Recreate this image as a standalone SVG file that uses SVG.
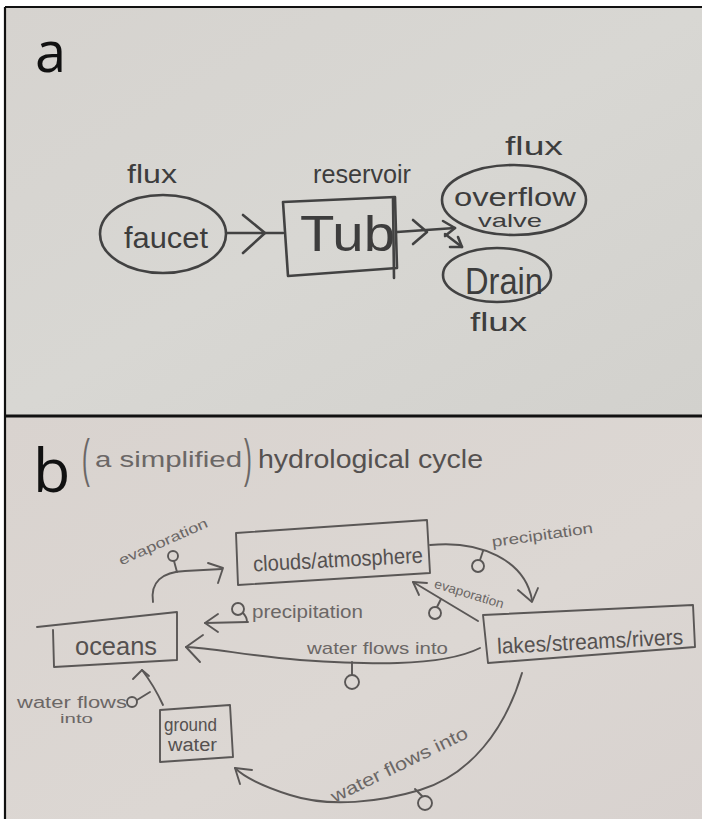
<svg xmlns="http://www.w3.org/2000/svg" width="702" height="819" viewBox="0 0 702 819">
  <style>
    .paperA { fill: url(#paperA); }
    .paperB { fill: url(#paperB); }
    .frame { fill: none; stroke: #111; stroke-width: 2.2; }
    .inkA { fill: none; stroke: #424242; stroke-width: 2.6; stroke-linecap: round; stroke-linejoin: round; }
    .inkB { fill: none; stroke: #5a5756; stroke-width: 1.9; stroke-linecap: round; stroke-linejoin: round; }
    .txtA { font-family: "Liberation Sans", "DejaVu Sans", sans-serif; fill: #3d3d3d; }
    .txtB { font-family: "Liberation Sans", "DejaVu Sans", sans-serif; fill: #555150; }
    .light { fill: #6b6766; }
    .panel { font-family: "Open Sans", "Liberation Sans", sans-serif; fill: #111; }
  </style>
  <defs>
    <linearGradient id="paperA" x1="0" y1="0" x2="1" y2="1">
      <stop offset="0" stop-color="#d6d3cf"/>
      <stop offset="0.5" stop-color="#d8d7d3"/>
      <stop offset="1" stop-color="#d2d1cd"/>
    </linearGradient>
    <linearGradient id="paperB" x1="0" y1="0" x2="1" y2="1">
      <stop offset="0" stop-color="#d9d3cf"/>
      <stop offset="0.6" stop-color="#dcd7d3"/>
      <stop offset="1" stop-color="#d8d2cf"/>
    </linearGradient>
  </defs>

  <!-- page and panel frames -->
  <rect x="0" y="0" width="702" height="819" fill="#ffffff"/>
  <rect class="paperA" x="5" y="7" width="700" height="408"/>
  <rect class="paperB" x="5" y="417" width="700" height="405"/>
  <path class="frame" d="M5,7 H702 M5,7 V819"/>
  <path d="M5,416 H702" stroke="#111" stroke-width="3" fill="none"/>

  <!-- panel a -->
  <text class="panel" x="35" y="72" font-size="56">a</text>

  <g id="faucet">
    <ellipse class="inkA" cx="163" cy="234" rx="63" ry="39"/>
    <text class="txtA" x="124" y="248" font-size="30" textLength="84" lengthAdjust="spacingAndGlyphs">faucet</text>
    <text class="txtA" x="127" y="183" font-size="26" textLength="50" lengthAdjust="spacingAndGlyphs">flux</text>
  </g>

  <g id="tub">
    <path class="inkA" d="M283,202 L395,197 L397,268 L288,276 Z"/>
    <path class="inkA" d="M393,199 L394,278"/>
    <text class="txtA" x="300" y="251" font-size="50" textLength="95" lengthAdjust="spacingAndGlyphs">Tub</text>
    <text class="txtA" x="313" y="183" font-size="25" textLength="98" lengthAdjust="spacingAndGlyphs">reservoir</text>
  </g>

  <g id="overflow-valve">
    <ellipse class="inkA" cx="514" cy="200" rx="72" ry="35"/>
    <text class="txtA" x="454" y="206" font-size="26" textLength="122" lengthAdjust="spacingAndGlyphs">overflow</text>
    <text class="txtA" x="478" y="227" font-size="19" textLength="64" lengthAdjust="spacingAndGlyphs">valve</text>
    <text class="txtA" x="505" y="155" font-size="26" textLength="58" lengthAdjust="spacingAndGlyphs">flux</text>
  </g>

  <g id="drain">
    <ellipse class="inkA" cx="497" cy="275" rx="54" ry="27"/>
    <text class="txtA" x="465" y="294" font-size="36" textLength="78" lengthAdjust="spacingAndGlyphs">Drain</text>
    <text class="txtA" x="470" y="331" font-size="26" textLength="57" lengthAdjust="spacingAndGlyphs">flux</text>
  </g>

  <g id="connectors-a">
    <path class="inkA" d="M227,233 L283,233"/>
    <path class="inkA" d="M243,215 L265,233 L243,253"/>
    <path class="inkA" d="M397,232 L455,228"/>
    <path class="inkA" d="M413,220 L427,232 L413,244"/>
    <path class="inkA" d="M443,221 L455,228 L445,236"/>
    <path class="inkA" d="M445,234 L462,247"/>
    <path class="inkA" d="M450,247 L462,247 L458,237"/>
  </g>

  <!-- panel b -->
  <text class="panel" x="33" y="492" font-size="61" font-family="Liberation Sans, sans-serif">b</text>
  <g id="title">
    <text class="txtB light" x="82" y="476" font-size="52" transform="translate(82 476) scale(0.45 1) translate(-82 -476)">(</text>
    <text class="txtB light" x="95" y="467" font-size="22" textLength="147" lengthAdjust="spacingAndGlyphs">a simplified</text>
    <text class="txtB light" x="244" y="476" font-size="52" transform="translate(244 476) scale(0.45 1) translate(-244 -476)">)</text>
    <text class="txtB" x="258" y="468" font-size="25" textLength="225" lengthAdjust="spacingAndGlyphs">hydrological cycle</text>
  </g>

  <g id="clouds">
    <path class="inkB" d="M236,533 L427,520 L430,573 L238,585 Z"/>
    <text class="txtB" x="253" y="567" font-size="22" textLength="170" lengthAdjust="spacingAndGlyphs" transform="rotate(-3 338 560)">clouds/atmosphere</text>
  </g>

  <g id="lakes">
    <path class="inkB" d="M483,615 L693,605 L695,647 L488,663 Z"/>
    <text class="txtB" x="497" y="649" font-size="22" textLength="186" lengthAdjust="spacingAndGlyphs" transform="rotate(-3 590 640)">lakes/streams/rivers</text>
  </g>

  <g id="oceans">
    <path class="inkB" d="M37,627 L177,612 L177,660 L54,667 L53,630"/>
    <text class="txtB" x="75" y="655" font-size="26" textLength="82" lengthAdjust="spacingAndGlyphs">oceans</text>
  </g>

  <g id="groundwater">
    <path class="inkB" d="M160,710 L230,705 L233,757 L160,762 Z"/>
    <text class="txtB" x="164" y="731" font-size="18" textLength="53" lengthAdjust="spacingAndGlyphs">ground</text>
    <text class="txtB" x="168" y="751" font-size="18" textLength="49" lengthAdjust="spacingAndGlyphs">water</text>
  </g>

  <g id="connectors-b">
    <!-- oceans to clouds: evaporation -->
    <path class="inkB" d="M153,602 C150,582 162,572 185,571 L222,569"/>
    <path class="inkB" d="M208,563 L223,568 L218,583"/>
    <path class="inkB" d="M177,572 L174,561"/>
    <circle class="inkB" cx="173" cy="556" r="5"/>
    <text class="txtB light" x="165" y="546" font-size="14" text-anchor="middle" textLength="96" lengthAdjust="spacingAndGlyphs" transform="rotate(-24 165 546)">evaporation</text>

    <!-- clouds to lakes: precipitation -->
    <path class="inkB" d="M430,545 C480,540 525,560 532,600"/>
    <path class="inkB" d="M518,590 L532,602 L538,588"/>
    <path class="inkB" d="M483,551 L480,560"/>
    <circle class="inkB" cx="478" cy="566" r="6"/>
    <text class="txtB light" x="543" y="540" font-size="15" text-anchor="middle" textLength="102" lengthAdjust="spacingAndGlyphs" transform="rotate(-8 543 540)">precipitation</text>

    <!-- lakes to clouds: evaporation -->
    <path class="inkB" d="M478,621 L413,582"/>
    <path class="inkB" d="M427,583 L413,582 L419,595"/>
    <path class="inkB" d="M441,599 L437,607"/>
    <circle class="inkB" cx="435" cy="613" r="6"/>
    <text class="txtB light" x="468" y="598" font-size="13" text-anchor="middle" textLength="72" lengthAdjust="spacingAndGlyphs" transform="rotate(17 468 598)">evaporation</text>

    <!-- clouds to oceans: precipitation -->
    <path class="inkB" d="M248,622 L205,623"/>
    <path class="inkB" d="M218,614 L205,623 L218,632"/>
    <circle class="inkB" cx="238" cy="609" r="6"/>
    <path class="inkB" d="M243,613 C246,616 247,619 247,622"/>
    <text class="txtB light" x="252" y="618" font-size="18" textLength="111" lengthAdjust="spacingAndGlyphs">precipitation</text>

    <!-- lakes to oceans: water flows into -->
    <path class="inkB" d="M480,648 C440,668 360,664 300,660 C250,656 212,648 186,647"/>
    <path class="inkB" d="M203,635 L186,647 L200,662"/>
    <path class="inkB" d="M352,662 L352,675"/>
    <circle class="inkB" cx="352" cy="682" r="7"/>
    <text class="txtB light" x="307" y="654" font-size="17" textLength="141" lengthAdjust="spacingAndGlyphs">water flows into</text>

    <!-- lakes to groundwater: water flows into -->
    <path class="inkB" d="M522,673 C505,730 470,775 420,790 C380,802 330,808 290,795 C265,787 245,778 235,768"/>
    <path class="inkB" d="M252,770 L235,768 L240,784"/>
    <path class="inkB" d="M415,789 L422,796"/>
    <circle class="inkB" cx="425" cy="803" r="7"/>
    <text class="txtB light" x="402" y="770" font-size="18" text-anchor="middle" textLength="150" lengthAdjust="spacingAndGlyphs" transform="rotate(-26 402 770)">water flows into</text>

    <!-- groundwater to oceans: water flows into -->
    <path class="inkB" d="M163,705 C156,690 149,679 142,670"/>
    <path class="inkB" d="M133,679 L142,670 L149,676"/>
    <path class="inkB" d="M137,700 L150,692"/>
    <circle class="inkB" cx="132" cy="702" r="5"/>
    <text class="txtB light" x="17" y="708" font-size="16" textLength="110" lengthAdjust="spacingAndGlyphs">water flows</text>
    <text class="txtB light" x="60" y="723" font-size="13" textLength="33" lengthAdjust="spacingAndGlyphs">into</text>
  </g>
</svg>
